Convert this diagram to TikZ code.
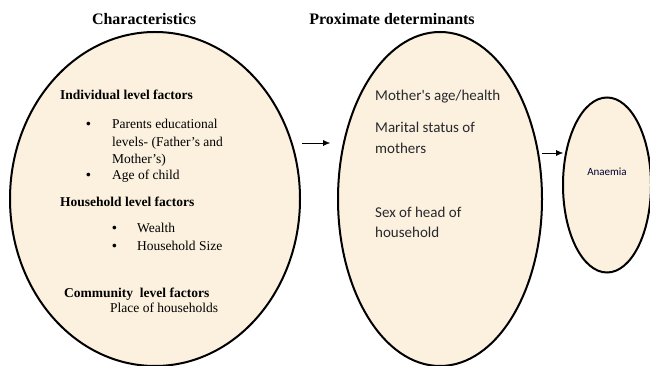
\documentclass[tikz,border=0pt]{standalone}
\usepackage{fontspec}
\setmainfont{Liberation Serif}
\newfontfamily\calibri{Carlito}
\usetikzlibrary{shapes.geometric,arrows.meta}

\definecolor{beige}{RGB}{251,241,222}
\definecolor{txtgray}{RGB}{40,40,45}

\tikzset{
    oval/.style={ellipse, draw=black, line width=2pt, fill=beige, inner sep=0pt},
    txt/.style={anchor=base west, inner sep=0pt, font=\fontsize{13.5}{16}\selectfont},
    head/.style={txt, font=\fontsize{13.5}{16}\selectfont\bfseries},
    prox/.style={anchor=base west, inner sep=0pt, text=txtgray, font=\calibri\fontsize{15}{18}\selectfont},
    title/.style={anchor=base, inner sep=0pt, font=\fontsize{16}{19}\selectfont\bfseries}
}

\begin{document}
\begin{tikzpicture}[x=1pt, y=1pt, >={Latex[length=7pt,width=6pt]}]
        \useasboundingbox (0,0) rectangle (650,366);

        % the three ovals
        \node[oval, minimum width=290pt, minimum height=334pt] (charac) at (155,167) {};
        \node[oval, minimum width=204pt, minimum height=334pt] (proxdet) at (440,167) {};
        \node[oval, minimum width=88pt, minimum height=175pt] (anaemia) at (607,181) {};

        \node[title] (t1) at (144,341) {Characteristics};
        \node[title] (t2) at (392,341) {Proximate determinants};

        % left oval
        \node[head] (ind) at (60,266) {Individual level factors};
        \node[txt] (b1) at (86,237) {\textbf{\textbullet}};
        \node[txt] (p1) at (112,237) {Parents educational};
        \node[txt] (p2) at (112,219) {levels- (Father's and};
        \node[txt] (p3) at (112,202) {Mother's)};
        \node[txt] (b2) at (86,186) {\textbf{\textbullet}};
        \node[txt] (p4) at (112,186) {Age of child};
        \node[head] (hh) at (60,159) {Household level factors};
        \node[txt] (b3) at (112,133) {\textbf{\textbullet}};
        \node[txt] (w1) at (137,133) {Wealth};
        \node[txt] (b4) at (112,115) {\textbf{\textbullet}};
        \node[txt] (w2) at (137,115) {Household Size};
        \node[head] (com) at (64,68) {Community\ \ level factors};
        \node[txt] (pl) at (110,53) {Place of households};

        % middle oval
        \node[prox] (m1) at (375,265) {Mother's age/health};
        \node[prox] (m2) at (375,233) {Marital status of};
        \node[prox] (m3) at (375,212) {mothers};
        \node[prox] (m4) at (375,148) {Sex of head of};
        \node[prox] (m5) at (375,128) {household};

        \node[prox, anchor=base, font=\calibri\fontsize{11}{13}\selectfont, text=black!80!blue] (an) at (607,190) {Anaemia};

        % arrows
        \coordinate (a1s) at (302,223);
        \coordinate (a1e) at (330,223);
        \coordinate (a2s) at (542,213);
        \coordinate (a2e) at (563,213);
        \draw[->] (a1s)--(a1e);
        \draw[->] (a2s)--(a2e);

    \end{tikzpicture}
\end{document}
